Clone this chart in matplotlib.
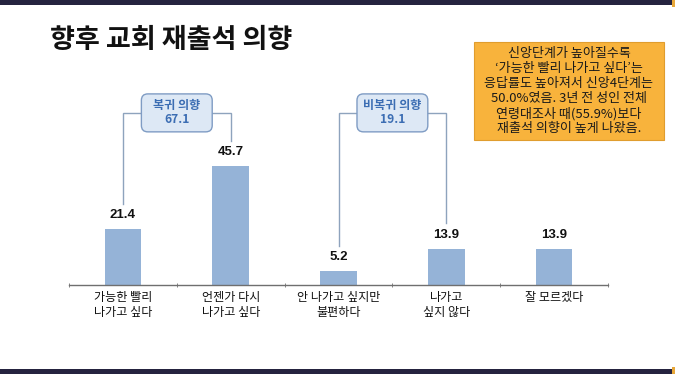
import matplotlib
matplotlib.use('Agg')
import matplotlib.pyplot as plt
from matplotlib.patches import FancyBboxPatch, Rectangle

plt.rcParams['font.family'] = ['Noto Sans CJK KR', 'DejaVu Sans']

# 데이터
categories = ['가능한 빨리\n나가고 싶다', '언젠가 다시\n나가고 싶다', '안 나가고 싶지만\n불편하다',
              '나가고\n싶지 않다', '잘 모르겠다']
values = [21.4, 45.7, 5.2, 13.9, 13.9]
group_names = ['복귀 의향', '비복귀 의향']
group_totals = [67.1, 19.1]
group_members = [(0, 1), (2, 3)]
title = '향후 교회 재출석 의향'
note = ('신앙단계가 높아질수록\n‘가능한 빨리 나가고 싶다’는\n응답률도 높아져서 신앙4단계는\n'
        '50.0%였음. 3년 전 성인 전체\n연령대조사 때(55.9%)보다\n재출석 의향이 높게 나왔음.')

W, H = 675, 374
fig = plt.figure(figsize=(W / 100, H / 100), dpi=100)
fig.patch.set_facecolor('white')

# 상단/하단 띠
fig.add_artist(Rectangle((0, 1 - 5 / H), 1, 5 / H, transform=fig.transFigure,
                         facecolor='#25233f', edgecolor='none'))
fig.add_artist(Rectangle((0, 0), 1, 5 / H, transform=fig.transFigure,
                         facecolor='#25233f', edgecolor='none'))
fig.add_artist(Rectangle((1 - 3 / W, 1 - 7 / H), 3 / W, 7 / H, transform=fig.transFigure,
                         facecolor='#e8a83a', edgecolor='none'))
fig.add_artist(Rectangle((1 - 3 / W, 0), 3 / W, 7 / H, transform=fig.transFigure,
                         facecolor='#e8a83a', edgecolor='none'))

# 축 영역 (픽셀 기준)
x0, x1 = 69, 608
y_base, y_top = 285, 85
ax = fig.add_axes([x0 / W, 1 - y_base / H, (x1 - x0) / W, (y_base - y_top) / H])
ymax = (y_base - y_top) / 2.6
ax.set_xlim(-0.5, len(values) - 0.5)
ax.set_ylim(0, ymax)

xs = list(range(len(values)))
ax.bar(xs, values, width=0.34, color='#95b3d7', zorder=2)
for x, v in zip(xs, values):
    ax.text(x, v + 5.4, f'{v}', ha='center', va='center', fontsize=9.5, fontweight='bold',
            family=['Liberation Sans', 'DejaVu Sans'], color='#111111')

# 그룹 괄호
bracket_y = 66.2
line_c = '#8ea3bd'
box_w, box_h = 0.657, 14.6
for name, total, (a, b) in zip(group_names, group_totals, group_members):
    ax.plot([a, a, b, b], [values[a] + 9.8, bracket_y, bracket_y, values[b] + 9.8],
            color=line_c, lw=1.0, zorder=1, solid_joinstyle='miter')
    cx = (a + b) / 2
    box = FancyBboxPatch((cx - box_w / 2, bracket_y - box_h / 2), box_w, box_h,
                         boxstyle='round,pad=0,rounding_size=0.06', mutation_aspect=41.5,
                         facecolor='#dde8f5', edgecolor='#7f9cc4', lw=1.0, zorder=3,
                         clip_on=False)
    ax.add_patch(box)
    ax.text(cx, bracket_y, f'{name}\n{total}', ha='center', va='center', fontsize=8.7,
            fontweight='bold', color='#3b6db3', linespacing=1.1, zorder=4)

for s in ['top', 'right', 'left']:
    ax.spines[s].set_visible(False)
ax.spines['bottom'].set_color('#6f6f6f')
ax.spines['bottom'].set_linewidth(1.0)
ax.set_yticks([])
ax.set_xticks(xs)
ax.set_xticklabels(categories, fontsize=8.7, color='#111111', linespacing=1.25)
ax.tick_params(axis='x', which='major', length=0, pad=4)
ax.set_xticks([i - 0.5 for i in range(len(values) + 1)], minor=True)
ax.tick_params(axis='x', which='minor', length=3, direction='inout', color='#6f6f6f')
ax.patch.set_alpha(0)

# 제목
fig.text(50 / W, 1 - 40 / H, title, fontsize=19.5, fontweight='bold', color='#111111',
         ha='left', va='center')

# 설명 상자
bx0, bx1, by0, by1 = 474, 664, 42, 140
fig.add_artist(Rectangle((bx0 / W, 1 - by1 / H), (bx1 - bx0) / W, (by1 - by0) / H,
                         transform=fig.transFigure, facecolor='#f8b33c',
                         edgecolor='#e09d2e', lw=0.8))
fig.text((bx0 + bx1) / 2 / W, 1 - (by0 + by1) / 2 / H, note, ha='center', va='center',
         fontsize=9.4, color='#1a1a1a', linespacing=1.2)

fig.savefig('out.png', dpi=100)
